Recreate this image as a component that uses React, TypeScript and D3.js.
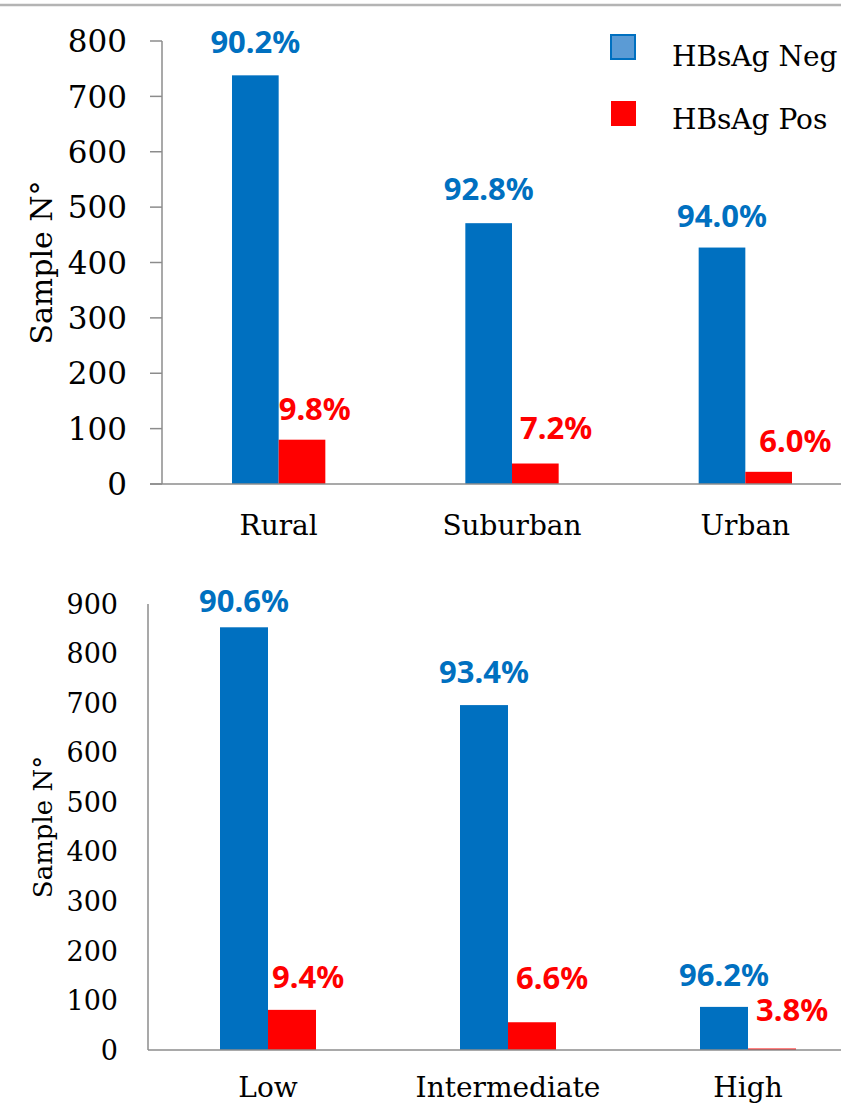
import React from "react";
import * as d3 from "d3";

// top panel: residence
const areaCategories = ["Rural", "Suburban", "Urban"];
const areaNeg = [738, 471, 427];
const areaPos = [80, 37, 22];
const areaNegPct = ["90.2%", "92.8%", "94.0%"];
const areaPosPct = ["9.8%", "7.2%", "6.0%"];
const areaTicks = [0, 100, 200, 300, 400, 500, 600, 700, 800];

// bottom panel: level
const levelCategories = ["Low", "Intermediate", "High"];
const levelNeg = [853, 696, 87];
const levelPos = [81, 56, 3];
const levelNegPct = ["90.6%", "93.4%", "96.2%"];
const levelPosPct = ["9.4%", "6.6%", "3.8%"];
const levelTicks = [0, 100, 200, 300, 400, 500, 600, 700, 800, 900];

const seriesNames = ["HBsAg Neg", "HBsAg Pos"];

const BLUE = "#0070c0";
const RED = "#ff0000";
const AXIS = "#8c8c8c";
const SERIF = "'DejaVu Serif', serif";
const SANS = "'Noto Sans', sans-serif";

type PanelProps = {
  categories: string[];
  neg: number[];
  pos: number[];
  negPct: string[];
  posPct: string[];
  ticks: number[];
  x0: number;
  x1: number;
  yTop: number;
  yBottom: number;
  tickMarks: boolean;
  tickFont: number;
  tickRight: number;
  titleFont: number;
  titleX: number;
  catFont: number;
  catBaseline: number;
  negGap: number[];
  posGap: number[];
  posShift: number[];
};

function Panel(p: PanelProps) {
  const max = p.ticks[p.ticks.length - 1];
  const y = d3.scaleLinear().domain([0, max]).range([p.yBottom, p.yTop]);
  const x = d3.scaleBand().domain(p.categories).range([p.x0, p.x1]).paddingInner(0.6).paddingOuter(0.3);
  const sub = d3.scaleBand().domain(["neg", "pos"]).range([0, x.bandwidth()]);
  const bw = sub.bandwidth();
  const midY = (p.yTop + p.yBottom) / 2;

  return (
    <g>
      {p.categories.map((c, i) => {
        const gx = x(c)!;
        const nx = gx + sub("neg")!;
        const px = gx + sub("pos")!;
        return (
          <g key={c}>
            <rect x={nx} y={y(p.neg[i])} width={bw} height={p.yBottom - y(p.neg[i])} fill={BLUE} />
            <rect x={px} y={y(p.pos[i])} width={bw} height={p.yBottom - y(p.pos[i])} fill={RED} />
            <text x={nx + bw / 2} y={y(p.neg[i]) - p.negGap[i]} textAnchor="middle"
              fontFamily={SANS} fontWeight={700} fontSize={31} fill={BLUE}>{p.negPct[i]}</text>
            <text x={px + p.posShift[i]} y={y(p.pos[i]) - p.posGap[i]} textAnchor="start"
              fontFamily={SANS} fontWeight={700} fontSize={31} fill={RED}>{p.posPct[i]}</text>
            <text x={gx + x.bandwidth() / 2} y={p.catBaseline} textAnchor="middle"
              fontFamily={SERIF} fontSize={p.catFont} fill="#000">{c}</text>
          </g>
        );
      })}
      <line x1={p.x0} x2={p.x0} y1={p.yTop} y2={p.yBottom} stroke={AXIS} strokeWidth={1.5} />
      <line x1={p.tickMarks ? p.x0 - 12 : p.x0} x2={841} y1={p.yBottom} y2={p.yBottom} stroke={AXIS} strokeWidth={1.5} />
      {p.ticks.map((t) => (
        <g key={t}>
          {p.tickMarks && <line x1={p.x0 - 12} x2={p.x0} y1={y(t)} y2={y(t)} stroke={AXIS} strokeWidth={1.5} />}
          <text x={p.tickRight} y={y(t)} dy="0.36em" textAnchor="end" fontFamily={SERIF}
            fontSize={p.tickFont} fill="#000">{t}</text>
        </g>
      ))}
      <text transform={`translate(${p.titleX},${midY}) rotate(-90)`} textAnchor="middle"
        fontFamily={SERIF} fontSize={p.titleFont} fill="#000">Sample N°</text>
    </g>
  );
}

export default function App() {
  return (
    <svg width={841} height={1106} style={{ position: "absolute", left: 0, top: 0, background: "#fff" }}>
      <rect width={841} height={1106} fill="#fff" />
      <line x1={0} x2={841} y1={5} y2={5} stroke="#b4b4b4" strokeWidth={2.5} />
      <Panel categories={areaCategories} neg={areaNeg} pos={areaPos} negPct={areaNegPct} posPct={areaPosPct}
        ticks={areaTicks} x0={162} x1={862} yTop={41} yBottom={484} tickMarks={true} tickFont={31}
        tickRight={127} titleFont={30} titleX={52} catFont={28} catBaseline={535}
        negGap={[22, 23, 21]} posGap={[20, 25, 20]} posShift={[0, 8, 14]} />
      <Panel categories={levelCategories} neg={levelNeg} pos={levelPos} negPct={levelNegPct} posPct={levelPosPct}
        ticks={levelTicks} x0={148} x1={868} yTop={604} yBottom={1050} tickMarks={false} tickFont={27}
        tickRight={118} titleFont={26} titleX={52} catFont={28} catBaseline={1097}
        negGap={[15, 22, 21]} posGap={[22, 33, 28]} posShift={[4, 8, 8]} />
      <g fontFamily={SERIF} fontSize={28}>
        <rect x={611} y={35} width={24} height={24} fill="#5b9bd5" stroke={BLUE} strokeWidth={2} />
        <text x={672} y={66} fill="#000">{seriesNames[0]}</text>
        <rect x={611} y={101} width={25} height={25} fill={RED} />
        <text x={672} y={129} fill="#000">{seriesNames[1]}</text>
      </g>
    </svg>
  );
}
